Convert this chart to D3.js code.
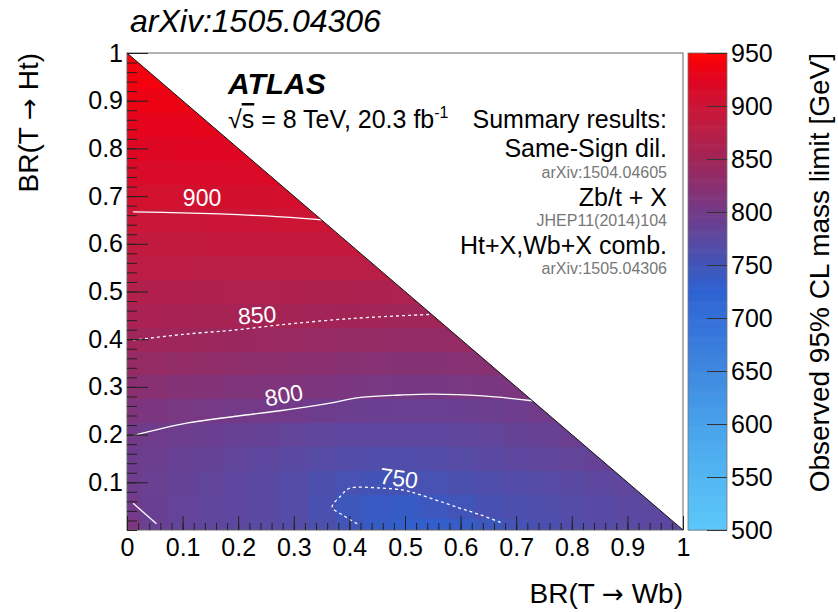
<!DOCTYPE html>
<html>
<head>
<meta charset="utf-8">
<script src="https://cdn.jsdelivr.net/npm/d3@7"></script>
<style>
    body { margin: 0; background: #fff; }
    svg text { font-family: "Liberation Sans", Arial, Helvetica, sans-serif; }
</style>
</head>
<body>
<svg width="838" height="612"></svg>
<script>
// BR(T -> Wb) and BR(T -> Ht) grid points (bin centres)
const brWb = [0, 0.05, 0.1, 0.15, 0.2, 0.25, 0.3, 0.35, 0.4, 0.45, 0.5, 0.55, 0.6, 0.65, 0.7, 0.75, 0.8, 0.85, 0.9, 0.95, 1];
const brHt = [0, 0.05, 0.1, 0.15, 0.2, 0.25, 0.3, 0.35, 0.4, 0.45, 0.5, 0.55, 0.6, 0.65, 0.7, 0.75, 0.8, 0.85, 0.9, 0.95, 1];

// Observed mass limit [GeV], one row per BR(Ht) value, columns follow brWb (until BR sum = 1)
const limitRows = [
    [808, 790, 782, 778, 775, 772, 768, 762, 752, 738, 730, 730, 736, 745, 754, 760, 765, 769, 772, 775, 778],
    [800, 789, 783, 779, 776, 773, 768, 759, 746, 740, 738, 744, 751, 757, 761, 764, 768, 771, 774, 776],
    [795, 790, 784, 780, 777, 773, 768, 762, 756, 753, 754, 756, 760, 764, 767, 770, 773, 776, 779],
    [796, 792, 788, 784, 780, 777, 773, 770, 767, 765, 765, 767, 770, 773, 776, 779, 782, 785],
    [800, 797, 794, 791, 788, 785, 782, 779, 777, 776, 776, 777, 779, 781, 784, 788, 792],
    [812, 809, 806, 803, 801, 800, 799, 796, 793, 791, 790, 790, 791, 792, 795, 799],
    [825, 822, 819, 817, 815, 814, 813, 811, 808, 806, 805, 805, 806, 807, 809],
    [838, 836, 834, 832, 830, 828, 827, 825, 823, 821, 820, 820, 821, 822],
    [850, 848, 847, 845, 843, 842, 841, 839, 837, 836, 835, 835, 836],
    [860, 859, 858, 857, 856, 855, 854, 853, 852, 851, 850, 850],
    [869, 868, 868, 867, 866, 866, 865, 864, 864, 863, 862],
    [879, 879, 879, 878, 878, 878, 877, 877, 877, 876],
    [888, 888, 888, 889, 889, 889, 889, 890, 890],
    [898, 898, 898, 899, 899, 899, 900, 900],
    [907, 907, 907, 908, 908, 908, 909],
    [915, 915, 916, 916, 916, 917],
    [922, 922, 923, 923, 924],
    [928, 929, 929, 930],
    [934, 935, 935],
    [939, 940],
    [944]
];

// Colour palette stops (value -> colour)
const paletteValues = [500, 550, 600, 650, 700, 725, 750, 775, 800, 825, 850, 875, 900, 925, 950];
const paletteColors = ["#5cc8fa", "#52b6f2", "#48a2ea", "#3e88e0", "#3470d8", "#2e62d2", "#4055b8", "#5c48a0",
    "#723a88", "#8a3070", "#a02558", "#b81e48", "#cc1535", "#e00520", "#ff0000"];

// Contour lines, [BR(Wb), BR(Ht)] points
const contour900 = [[0.011, 0.667], [0.1, 0.665], [0.2, 0.661], [0.3, 0.655], [0.35, 0.65]];
const contour850 = [[0.011, 0.398], [0.1, 0.41], [0.2, 0.42], [0.275, 0.43], [0.4, 0.443], [0.527, 0.451], [0.548, 0.452]];
const contour800 = [[0.011, 0.198], [0.107, 0.224], [0.2, 0.239], [0.275, 0.25], [0.36, 0.265], [0.42, 0.278],
    [0.491, 0.283], [0.55, 0.285], [0.64, 0.281], [0.729, 0.271]];
const contour800corner = [[0.011, 0.056], [0.053, 0.013]];
const contour750 = [[0.414, 0.013], [0.39, 0.03], [0.369, 0.048], [0.385, 0.072], [0.399, 0.087], [0.455, 0.088],
    [0.5, 0.083], [0.527, 0.074], [0.593, 0.048], [0.635, 0.032], [0.676, 0.014]];

// Contour labels
const contourLabels = ["900", "850", "800", "750"];
const contourLabelWb = [0.135, 0.234, 0.282, 0.489];
const contourLabelHt = [0.696, 0.451, 0.283, 0.109];

// Tick labels
const xTicks = [0, 0.1, 0.2, 0.3, 0.4, 0.5, 0.6, 0.7, 0.8, 0.9, 1];
const xTickLabels = ["0", "0.1", "0.2", "0.3", "0.4", "0.5", "0.6", "0.7", "0.8", "0.9", "1"];
const yTicks = [0.1, 0.2, 0.3, 0.4, 0.5, 0.6, 0.7, 0.8, 0.9, 1];
const yTickLabels = ["0.1", "0.2", "0.3", "0.4", "0.5", "0.6", "0.7", "0.8", "0.9", "1"];
const zTicks = [500, 550, 600, 650, 700, 750, 800, 850, 900, 950];

let svg = d3.select("svg");
let plotLeft = 127, plotTop = 53, plotW = 556, plotH = 477;

let x = d3.scaleLinear().domain([0, 1]).range([plotLeft, plotLeft + plotW]);
let y = d3.scaleLinear().domain([0, 1]).range([plotTop + plotH, plotTop]);
let color = d3.scaleLinear().domain(paletteValues).range(paletteColors).clamp(true);

// Flatten the rows into cells
let cells = [];
limitRows.forEach((row, i) => {
    row.forEach((v, j) => cells.push({ wb: brWb[j], ht: brHt[i], v: v }));
});

// Triangle clip (BR(Wb) + BR(Ht) <= 1)
svg.append("clipPath").attr("id", "tri")
    .append("path")
    .attr("d", "M" + x(0) + "," + y(0) + "L" + x(1) + "," + y(0) + "L" + x(0) + "," + y(1) + "Z");

let half = 0.025;
svg.append("g")
    .attr("clip-path", "url(#tri)")
    .selectAll("rect")
    .data(cells)
    .join("rect")
    .attr("x", d => x(Math.max(0, d.wb - half)))
    .attr("y", d => y(Math.min(1, d.ht + half)))
    .attr("width", d => x(Math.min(1, d.wb + half)) - x(Math.max(0, d.wb - half)) + 0.5)
    .attr("height", d => y(Math.max(0, d.ht - half)) - y(Math.min(1, d.ht + half)) + 0.5)
    .attr("fill", d => color(d.v))
    .attr("shape-rendering", "crispEdges");

// Contours
let line = d3.line().x(d => x(d[0])).y(d => y(d[1])).curve(d3.curveCatmullRom);
let contourList = [
    { pts: contour900, dash: null },
    { pts: contour850, dash: "3,3" },
    { pts: contour800, dash: null },
    { pts: contour800corner, dash: null },
    { pts: contour750, dash: "3,3" }
];
svg.append("g").selectAll("path")
    .data(contourList)
    .join("path")
    .attr("d", d => line(d.pts))
    .attr("fill", "none")
    .attr("stroke", "#fff")
    .attr("stroke-width", 1.3)
    .attr("stroke-dasharray", d => d.dash);

let labelRot = [0, -4, -10, 8];
svg.append("g").selectAll("text")
    .data(contourLabels)
    .join("text")
    .attr("transform", (d, i) => "translate(" + x(contourLabelWb[i]) + "," + y(contourLabelHt[i]) + ") rotate(" + labelRot[i] + ")")
    .attr("text-anchor", "middle")
    .attr("dy", "0.36em")
    .attr("fill", "#fff")
    .attr("font-size", "23px")
    .text(d => d);

// Frame
svg.append("rect")
    .attr("x", plotLeft).attr("y", plotTop)
    .attr("width", plotW).attr("height", plotH)
    .attr("fill", "none")
    .attr("stroke", "#666")
    .attr("stroke-width", 1);

// Diagonal edge of the physical region
svg.append("line")
    .attr("x1", x(0)).attr("y1", y(1))
    .attr("x2", x(1)).attr("y2", y(0))
    .attr("stroke", "#111")
    .attr("stroke-width", 1);

// Axes: major + minor ticks pointing inward
let minor = d3.range(0, 1.0001, 0.02);
let xAxisG = svg.append("g").attr("transform", "translate(0," + (plotTop + plotH) + ")");
xAxisG.append("g").call(d3.axisBottom(x).tickValues(minor).tickSize(-7).tickFormat(""));
xAxisG.append("g").call(d3.axisBottom(x).tickValues(xTicks).tickSize(-14).tickPadding(8)
    .tickFormat((d, i) => xTickLabels[i]));

let yAxisG = svg.append("g").attr("transform", "translate(" + plotLeft + ",0)");
yAxisG.append("g").call(d3.axisLeft(y).tickValues(minor).tickSize(-10).tickFormat(""));
yAxisG.append("g").call(d3.axisLeft(y).tickValues(yTicks).tickSize(-21).tickPadding(4)
    .tickFormat((d, i) => yTickLabels[i]));

svg.selectAll(".domain").remove();
svg.selectAll(".tick line").attr("stroke", "#222");
svg.selectAll(".tick text")
    .attr("font-family", "'Liberation Sans', Arial, sans-serif")
    .attr("font-size", "25px")
    .attr("fill", "#000");

// Colour bar
let cbX = 688, cbW = 39;
let z = d3.scaleLinear().domain([500, 950]).range([plotTop + plotH, plotTop]);
svg.append("g").selectAll("rect")
    .data(d3.range(500, 950, 2))
    .join("rect")
    .attr("x", cbX)
    .attr("width", cbW)
    .attr("y", d => z(d + 2))
    .attr("height", d => z(d) - z(d + 2) + 0.6)
    .attr("fill", d => color(d + 1));
svg.append("rect")
    .attr("x", cbX).attr("y", plotTop)
    .attr("width", cbW).attr("height", plotH)
    .attr("fill", "none")
    .attr("stroke", "#777")
    .attr("stroke-width", 0.8);
let zAxisG = svg.append("g")
    .attr("transform", "translate(" + (cbX + cbW) + ",0)")
    .call(d3.axisRight(z).tickValues(zTicks).tickSize(-20).tickPadding(4));
zAxisG.select(".domain").remove();
zAxisG.selectAll(".tick line").attr("stroke", "#333");
zAxisG.selectAll(".tick text")
    .attr("font-family", "'Liberation Sans', Arial, sans-serif")
    .attr("font-size", "25px")
    .attr("fill", "#000");

// Axis titles (arrow taken from DejaVu, which has a bigger glyph)
function brTitle(sel, product) {
    sel.append("tspan").text("BR(T ");
    sel.append("tspan").attr("font-family", "'DejaVu Sans', sans-serif").attr("font-size", "26px").text("\u2192");
    sel.append("tspan").text(" " + product + ")");
}
svg.append("text")
    .attr("transform", "translate(38," + plotTop + ") rotate(-90)")
    .attr("text-anchor", "end")
    .attr("font-size", "28px")
    .call(brTitle, "Ht");
svg.append("text")
    .attr("x", plotLeft + plotW)
    .attr("y", 603)
    .attr("text-anchor", "end")
    .attr("font-size", "28px")
    .call(brTitle, "Wb");
svg.append("text")
    .attr("transform", "translate(829," + plotTop + ") rotate(-90)")
    .attr("text-anchor", "end")
    .attr("font-size", "28px")
    .text("Observed 95% CL mass limit [GeV]");

// Title
svg.append("text")
    .attr("x", 130).attr("y", 32)
    .attr("font-size", "32px")
    .attr("font-style", "italic")
    .text("arXiv:1505.04306");

// ATLAS label
svg.append("text")
    .attr("x", 228).attr("y", 94)
    .attr("font-size", "30px")
    .attr("font-weight", "bold")
    .attr("font-style", "italic")
    .text("ATLAS");
let lumi = svg.append("text")
    .attr("x", 228).attr("y", 128)
    .attr("font-size", "25px");
lumi.append("tspan").text("\u221A");
lumi.append("tspan").style("text-decoration", "overline").text("s");
lumi.append("tspan").text(" = 8 TeV, 20.3 fb");
lumi.append("tspan").attr("dy", -10).attr("font-size", "16px").text("-1");

// Summary block
let summary = [
    { t: "Summary results:", yy: 128, s: 25, c: "#000" },
    { t: "Same-Sign dil.", yy: 157, s: 25, c: "#000" },
    { t: "arXiv:1504.04605", yy: 178, s: 16, c: "#777" },
    { t: "Zb/t + X", yy: 206, s: 25, c: "#000" },
    { t: "JHEP11(2014)104", yy: 226, s: 16, c: "#777" },
    { t: "Ht+X,Wb+X comb.", yy: 254, s: 25, c: "#000" },
    { t: "arXiv:1505.04306", yy: 274, s: 16, c: "#777" }
];
svg.append("g").selectAll("text")
    .data(summary)
    .join("text")
    .attr("x", 667)
    .attr("y", d => d.yy)
    .attr("text-anchor", "end")
    .attr("font-size", d => d.s + "px")
    .attr("fill", d => d.c)
    .text(d => d.t);
</script>
</body>
</html>
